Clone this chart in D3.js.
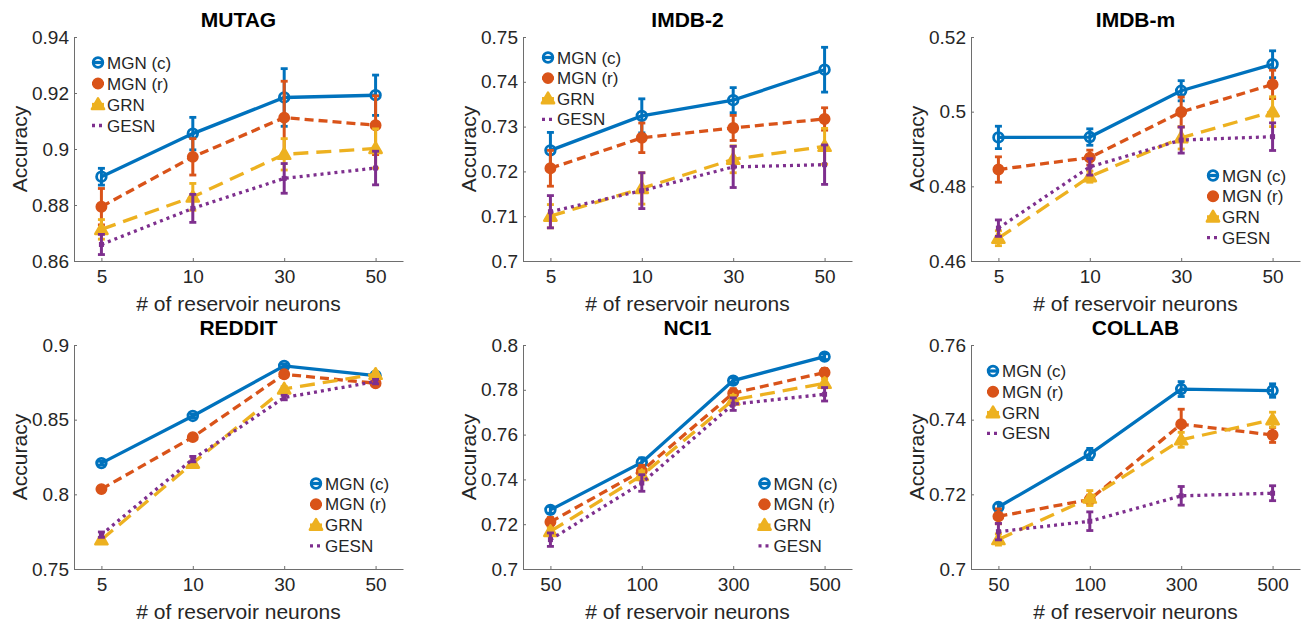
<!DOCTYPE html>
<html><head><meta charset="utf-8">
<script src="https://cdn.jsdelivr.net/npm/d3@7/dist/d3.min.js"></script>
<style>
body{margin:0;background:#fff}
svg{display:block}
text{font-family:"Liberation Sans",Arial,Helvetica,sans-serif;fill:#262626}
</style>
</head><body>
<svg id="chart" width="1301" height="622"></svg>
<script>
// ---------- data ----------
const seriesNames = ["MGN (c)", "MGN (r)", "GRN", "GESN"];
const seriesColors = ["#0072BD", "#D95319", "#EDB120", "#7E2F8E"];

const catsSmall = ["5", "10", "30", "50"];
const catsLarge = ["50", "100", "300", "500"];

// rows: MGN (c), MGN (r), GRN, GESN ; columns: categories
const mutagMean = [[0.8901, 0.9055, 0.9184, 0.9192], [0.8794, 0.8972, 0.9112, 0.9085], [0.8713, 0.8829, 0.8981, 0.9002], [0.8659, 0.8788, 0.8895, 0.8932]];
const mutagErr  = [[0.0030, 0.0058, 0.0103, 0.0072], [0.0065, 0.0065, 0.0130, 0.0105], [0.0035, 0.0048, 0.0056, 0.0070], [0.0036, 0.0050, 0.0053, 0.0060]];
const imdb2Mean = [[0.7247, 0.7324, 0.7359, 0.7427], [0.7207, 0.7275, 0.7297, 0.7317], [0.7100, 0.7162, 0.7227, 0.7256], [0.7110, 0.7157, 0.7210, 0.7215]];
const imdb2Err  = [[0.0040, 0.0038, 0.0028, 0.0050], [0.0040, 0.0033, 0.0028, 0.0025], [0.0026, 0.0035, 0.0030, 0.0040], [0.0036, 0.0040, 0.0046, 0.0044]];
const imdbmMean = [[0.4931, 0.4932, 0.5056, 0.5127], [0.4845, 0.4877, 0.4999, 0.5073], [0.4661, 0.4826, 0.4930, 0.5000], [0.4688, 0.4852, 0.4924, 0.4933]];
const imdbmErr  = [[0.0030, 0.0022, 0.0027, 0.0036], [0.0034, 0.0020, 0.0040, 0.0038], [0.0020, 0.0015, 0.0030, 0.0040], [0.0022, 0.0022, 0.0035, 0.0037]];
const redditMean = [[0.8209, 0.8525, 0.8860, 0.8795], [0.8035, 0.8383, 0.8804, 0.8744], [0.7696, 0.8209, 0.8706, 0.8804], [0.7730, 0.8236, 0.8648, 0.8755]];
const redditErr  = [[0.0012, 0.0012, 0.0012, 0.0012], [0.0012, 0.0012, 0.0012, 0.0012], [0.0015, 0.0015, 0.0015, 0.0015], [0.0018, 0.0018, 0.0015, 0.0015]];
const nci1Mean = [[0.7264, 0.7476, 0.7841, 0.7948], [0.7210, 0.7438, 0.7785, 0.7877], [0.7168, 0.7418, 0.7755, 0.7829], [0.7131, 0.7384, 0.7736, 0.7780]];
const nci1Err  = [[0.0015, 0.0020, 0.0012, 0.0013], [0.0020, 0.0025, 0.0020, 0.0018], [0.0015, 0.0020, 0.0020, 0.0020], [0.0030, 0.0037, 0.0028, 0.0030]];
const collabMean = [[0.7166, 0.7308, 0.7482, 0.7478], [0.7141, 0.7186, 0.7388, 0.7359], [0.7079, 0.7190, 0.7346, 0.7400], [0.7100, 0.7128, 0.7196, 0.7203]];
const collabErr  = [[0.0010, 0.0015, 0.0020, 0.0018], [0.0020, 0.0012, 0.0040, 0.0020], [0.0015, 0.0020, 0.0020, 0.0020], [0.0022, 0.0025, 0.0025, 0.0020]];

const mutagTicks = [0.86, 0.88, 0.90, 0.92, 0.94];
const imdb2Ticks = [0.70, 0.71, 0.72, 0.73, 0.74, 0.75];
const imdbmTicks = [0.46, 0.48, 0.50, 0.52];
const redditTicks = [0.75, 0.80, 0.85, 0.90];
const nci1Ticks = [0.70, 0.72, 0.74, 0.76, 0.78, 0.80];
const collabTicks = [0.70, 0.72, 0.74, 0.76];

const xLabel = "# of reservoir neurons";
const yLabel = "Accuracy";

// ---------- layout ----------
const colLeft = [74, 523, 971];
const rowTop = [37, 345];
const plotW = 329, plotH = 224;

const panels = [
  {title: "MUTAG",  col: 0, row: 0, cats: catsSmall, ticks: mutagTicks,  mean: mutagMean,  err: mutagErr,  leg: [24, 25.5, 21]},
  {title: "IMDB-2", col: 1, row: 0, cats: catsSmall, ticks: imdb2Ticks,  mean: imdb2Mean,  err: imdb2Err,  leg: [25, 20.5, 20.6]},
  {title: "IMDB-m", col: 2, row: 0, cats: catsSmall, ticks: imdbmTicks,  mean: imdbmMean,  err: imdbmErr,  leg: [242, 138.5, 20.7]},
  {title: "REDDIT", col: 0, row: 1, cats: catsSmall, ticks: redditTicks, mean: redditMean, err: redditErr, leg: [242, 138.5, 20.8]},
  {title: "NCI1",   col: 1, row: 1, cats: catsLarge, ticks: nci1Ticks,   mean: nci1Mean,   err: nci1Err,   leg: [241.5, 138.5, 20.8]},
  {title: "COLLAB", col: 2, row: 1, cats: catsLarge, ticks: collabTicks, mean: collabMean, err: collabErr, leg: [22, 26, 20.8]}
];

const dashes = [null, "9,5", "15,8", "3,4"];
const tickFmt = d3.format("~g");

const svg = d3.select("#chart");

function drawMarker(g, s, x, y) {
  const c = seriesColors[s];
  if (s === 0) {
    g.append("circle").attr("cx", x).attr("cy", y).attr("r", 4.8)
      .attr("fill", "none").attr("stroke", c).attr("stroke-width", 2.8);
  } else if (s === 1) {
    g.append("path").attr("transform", `translate(${x},${y})`)
      .attr("d", d3.symbol(d3.symbolCircle, 85)())
      .attr("fill", c).attr("stroke", c).attr("stroke-width", 1.5);
  } else if (s === 2) {
    g.append("path").attr("transform", `translate(${x},${y + 1})`)
      .attr("d", d3.symbol(d3.symbolTriangle, 65)())
      .attr("fill", c).attr("stroke", c).attr("stroke-width", 2.5).attr("stroke-linejoin", "round");
  } else {
    g.append("rect").attr("x", x - 2.5).attr("y", y - 2.5).attr("width", 5).attr("height", 5)
      .attr("fill", c);
  }
}

panels.forEach(p => {
  const left = colLeft[p.col], top = rowTop[p.row];
  const x = d3.scalePoint().domain(p.cats).range([left, left + plotW]).padding(0.3);
  const y = d3.scaleLinear().domain([p.ticks[0], p.ticks[p.ticks.length - 1]]).range([top + plotH, top]);
  const g = svg.append("g");

  // axes
  const xAxis = g.append("g").attr("transform", `translate(0,${top + plotH})`)
    .call(d3.axisBottom(x).tickSizeInner(-3).tickSizeOuter(0).tickPadding(9));
  const yAxis = g.append("g").attr("transform", `translate(${left},0)`)
    .call(d3.axisLeft(y).tickValues(p.ticks).tickFormat(tickFmt).tickSizeInner(-3).tickSizeOuter(0).tickPadding(5));
  [xAxis, yAxis].forEach(a => {
    a.select(".domain").attr("stroke", "#6e6e6e").attr("stroke-width", 1);
    a.selectAll(".tick line").attr("stroke", "#6e6e6e");
    a.selectAll("text").attr("font-size", 19).attr("fill", "#262626")
      .attr("font-family", "'Liberation Sans',Arial,Helvetica,sans-serif");
  });
  xAxis.selectAll("text").attr("dy", "0.71em");

  // title
  g.append("text").attr("x", left + plotW / 2).attr("y", top - 10)
    .attr("text-anchor", "middle").attr("font-size", 21).attr("font-weight", "bold")
    .style("fill", "#000").text(p.title);
  // x label
  g.append("text").attr("x", left + plotW / 2).attr("y", top + plotH + 49.5)
    .attr("text-anchor", "middle").attr("font-size", 21).text(xLabel);
  // y label
  g.append("text").attr("transform", `translate(${left - 47},${top + plotH / 2}) rotate(-90)`)
    .attr("text-anchor", "middle").attr("font-size", 21).text(yLabel);

  // series
  seriesNames.forEach((name, s) => {
    const col = seriesColors[s];
    const pts = p.cats.map((c, i) => ({c, v: p.mean[s][i], e: p.err[s][i]}));
    const sg = g.append("g");
    const line = d3.line().x(d => x(d.c)).y(d => y(d.v));
    sg.append("path").datum(pts).attr("d", line)
      .attr("fill", "none").attr("stroke", col).attr("stroke-width", 3.3)
      .attr("stroke-dasharray", dashes[s]).attr("stroke-linecap", "butt");
    pts.forEach(d => {
      const cx = x(d.c), y1 = y(d.v + d.e), y2 = y(d.v - d.e);
      sg.append("line").attr("x1", cx).attr("x2", cx).attr("y1", y1).attr("y2", y2)
        .attr("stroke", col).attr("stroke-width", 3);
      [y1, y2].forEach(yy => sg.append("line").attr("x1", cx - 3.5).attr("x2", cx + 3.5)
        .attr("y1", yy).attr("y2", yy).attr("stroke", col).attr("stroke-width", 2.8));
      drawMarker(sg, s, cx, y(d.v));
    });
  });

  // legend
  const [mx, my, dy] = p.leg;
  const lg = g.append("g").attr("transform", `translate(${left + mx},${top + my})`);
  seriesNames.forEach((name, s) => {
    const yy = s * dy;
    lg.append("line").attr("x1", -6).attr("x2", 6).attr("y1", yy).attr("y2", yy)
      .attr("stroke", seriesColors[s]).attr("stroke-width", 3.3)
      .attr("stroke-dasharray", s === 3 ? "3,4" : null);
    if (s < 3) drawMarker(lg, s, 0, yy);
    lg.append("text").attr("x", 9).attr("y", yy + 6).attr("font-size", 17).text(name);
  });
});
</script>
</body></html>
